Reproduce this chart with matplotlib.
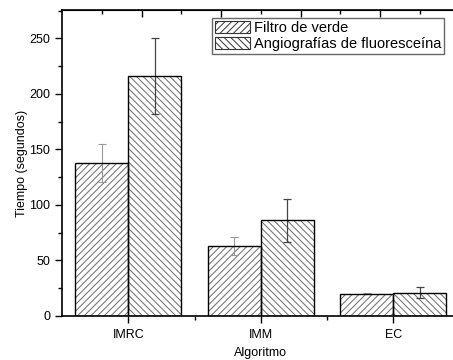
import numpy as np
import matplotlib
matplotlib.use("Agg")
import matplotlib.pyplot as plt
from matplotlib.ticker import MultipleLocator

algoritmos = ["IMRC", "IMM", "EC"]
filtro_verde = [138, 63, 20]
filtro_err = [17, 8, 0.5]
angiografias = [216, 86, 21]
angio_err = [34, 19, 5]

plt.rcParams.update({
    'font.family': ['Liberation Sans', 'DejaVu Sans'],
    'font.size': 9,
    'hatch.linewidth': 0.7,
})

fig = plt.figure(figsize=(4.53, 3.6), dpi=100)
ax = fig.add_axes([62 / 453, 44 / 360, 397.5 / 453, 306 / 360])

x = np.arange(1, len(algoritmos) + 1)
w = 0.4
hatch_col = '#6a6a6a'
# hatch layer (grey) then black outline on top
ax.bar(x - w / 2, filtro_verde, w, color='white', edgecolor=hatch_col,
       linewidth=0, hatch='/////', zorder=2)
ax.bar(x + w / 2, angiografias, w, color='white', edgecolor=hatch_col,
       linewidth=0, hatch='\\\\\\\\\\', zorder=2)
ax.bar(x - w / 2, filtro_verde, w, fill=False, edgecolor='black',
       linewidth=1.0, zorder=4)
ax.bar(x + w / 2, angiografias, w, fill=False, edgecolor='black',
       linewidth=1.0, zorder=4)
ax.errorbar(x - w / 2, filtro_verde, yerr=filtro_err, fmt='none',
            ecolor='#999999', elinewidth=0.8, capsize=3, capthick=0.8, zorder=3)
ax.errorbar(x + w / 2, angiografias, yerr=angio_err, fmt='none',
            ecolor='#444444', elinewidth=0.9, capsize=3, capthick=0.9, zorder=3)

# legend handles with the same look
h1 = plt.Rectangle((0, 0), 1, 1, facecolor='white', edgecolor='#333333',
                   linewidth=0.8, hatch='/////')
h2 = plt.Rectangle((0, 0), 1, 1, facecolor='white', edgecolor='#333333',
                   linewidth=0.8, hatch='\\\\\\\\\\')

ax.set_xlim(0.5, 3.5)
ax.set_ylim(0, 275.5)
ax.set_xticks(x)
ax.set_xticklabels(algoritmos)
ax.xaxis.set_minor_locator(plt.FixedLocator([1.5, 2.5]))
ax.yaxis.set_major_locator(MultipleLocator(50))
ax.yaxis.set_minor_locator(MultipleLocator(25))
ax.tick_params(axis='both', which='major', direction='out', length=5, width=1.0, labelsize=9)
ax.tick_params(axis='both', which='minor', direction='out', length=3, width=1.0)
ax.tick_params(axis='x', which='major', pad=4)

for s in ['left', 'bottom', 'top', 'right']:
    ax.spines[s].set_linewidth(1.2)

top = ax.secondary_xaxis('top')
top.set_xticks([1.1, 1.7, 2.3, 2.9])
top.set_xticks([0.8, 1.4, 2.0, 2.6, 3.2], minor=True)
top.set_xticklabels([])
top.tick_params(which='major', direction='in', length=5, width=1.0)
top.tick_params(which='minor', direction='in', length=3, width=1.0)

ax.set_xlabel('Algoritmo', fontsize=9, labelpad=5)
ax.set_ylabel('Tiempo (segundos)', fontsize=9, labelpad=1)

ax.legend([h1, h2], ['Filtro de verde', 'Angiografías de fluoresceína'],
          loc='upper left', bbox_to_anchor=((212 - 62) / 397.5, 1 - 8 / 306),
          fontsize=10.5, frameon=True, fancybox=False, edgecolor='#666666',
          framealpha=1, handlelength=2.4, handleheight=0.9, handletextpad=0.25,
          borderpad=0.2, labelspacing=0.15, borderaxespad=0)

fig.savefig('out.png', dpi=100)
